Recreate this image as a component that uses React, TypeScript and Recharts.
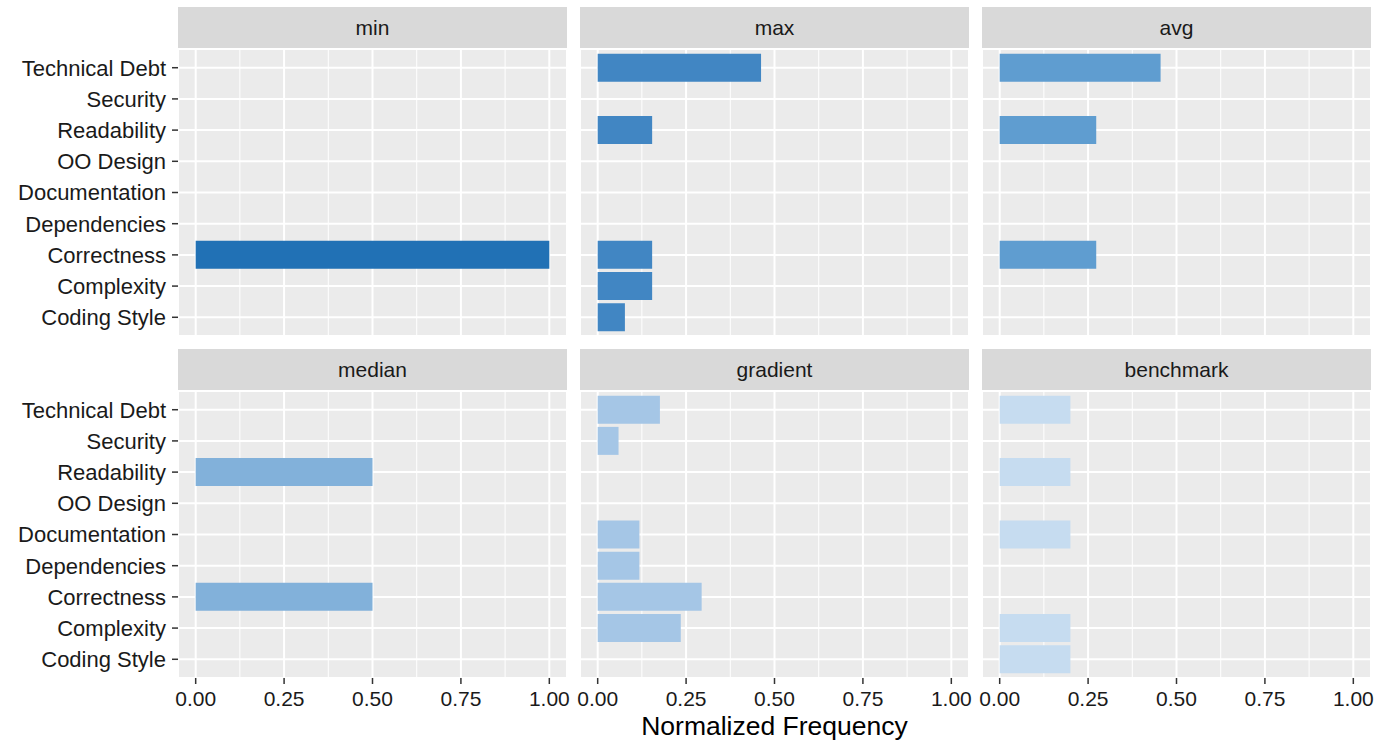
import { Bar, BarChart, CartesianGrid, XAxis, YAxis } from "recharts";

const categories = [
  "Technical Debt",
  "Security",
  "Readability",
  "OO Design",
  "Documentation",
  "Dependencies",
  "Correctness",
  "Complexity",
  "Coding Style"
];

const minValues = [0, 0, 0, 0, 0, 0, 1, 0, 0];
const maxValues = [0.462, 0, 0.154, 0, 0, 0, 0.154, 0.154, 0.077];
const avgValues = [0.455, 0, 0.273, 0, 0, 0, 0.273, 0, 0];
const medianValues = [0, 0, 0.5, 0, 0, 0, 0.5, 0, 0];
const gradientValues = [0.176, 0.059, 0, 0, 0.118, 0.118, 0.294, 0.235, 0];
const benchmarkValues = [0.2, 0, 0.2, 0, 0.2, 0, 0, 0.2, 0.2];

const panelTitles = ["min", "max", "avg", "median", "gradient", "benchmark"];
const majorTicks = [0, 0.25, 0.5, 0.75, 1];
const minorTicks = [0.125, 0.375, 0.625, 0.875];

const panelValues = [minValues, maxValues, avgValues, medianValues, gradientValues, benchmarkValues];
const panelColors = ["#2171b5", "#4186c3", "#5f9dd0", "#82b1da", "#a5c6e6", "#c6dcf0"];

// layout (px)
const COL_LEFT = [178, 580, 982];
const PANEL_W = 389;
const STRIP_TOP = [7, 349];
const STRIP_H = 42;
const PANEL_H = 287;
const X_AXIS_H = 52;
const FONT = "'Liberation Sans', Arial, sans-serif";

function Panel({ index }: { index: number }) {
  const col = index % 3;
  const row = Math.floor(index / 3);
  const values = panelValues[index];
  const data = categories.map((cat, i) => ({ cat, value: values[i] }));
  const showY = col === 0;
  const showX = row === 1;
  const left = showY ? 0 : COL_LEFT[col];
  const yW = showY ? COL_LEFT[0] : 0;
  const top = STRIP_TOP[row] + STRIP_H;
  const pad = PANEL_H / 92;

  return (
    <>
      <div
        style={{
          position: "absolute",
          left: COL_LEFT[col],
          top: STRIP_TOP[row],
          width: PANEL_W,
          height: STRIP_H,
          background: "#d9d9d9",
          color: "#1a1a1a",
          fontSize: 21,
          lineHeight: `${STRIP_H}px`,
          textAlign: "center"
        }}
      >
        {panelTitles[index]}
      </div>
      <div style={{ position: "absolute", left, top }}>
        <BarChart
          width={yW + PANEL_W}
          height={PANEL_H + (showX ? X_AXIS_H : 0)}
          data={data}
          layout="vertical"
          margin={{ top: 0, right: 0, bottom: 0, left: 0 }}
          barCategoryGap="5%"
          style={{ overflow: "visible" }}
        >
          <XAxis
            xAxisId="minor"
            type="number"
            domain={[-0.05, 1.05]}
            ticks={minorTicks}
            allowDataOverflow
            hide
          />
          <CartesianGrid
            xAxisId="minor"
            horizontal={false}
            stroke="#ffffff"
            strokeWidth={1}
            fill="#ebebeb"
            fillOpacity={1}
          />
          <CartesianGrid stroke="#ffffff" strokeWidth={2} />
          <XAxis
            type="number"
            dataKey="value"
            domain={[-0.05, 1.05]}
            ticks={majorTicks}
            interval={0}
            allowDataOverflow
            hide={!showX}
            height={X_AXIS_H}
            axisLine={false}
            tickSize={6}
            tickMargin={7}
            tickLine={{ stroke: "#333333", strokeWidth: 1.5 }}
            tick={{ fill: "#1a1a1a", fontSize: 21 }}
            tickFormatter={(v: number) => v.toFixed(2)}
          />
          <YAxis
            type="category"
            dataKey="cat"
            hide={!showY}
            width={yW}
            padding={{ top: pad, bottom: pad }}
            axisLine={false}
            tickSize={6}
            tickMargin={6}
            tickLine={{ stroke: "#333333", strokeWidth: 1.5 }}
            tick={{ fill: "#1a1a1a", fontSize: 22 }}
            interval={0}
          />
          <Bar dataKey="value" fill={panelColors[index]} isAnimationActive={false} />
        </BarChart>
      </div>
    </>
  );
}

export default function App() {
  return (
    <div
      style={{
        position: "absolute",
        left: 0,
        top: 0,
        width: 1397,
        height: 741,
        background: "#ffffff",
        fontFamily: FONT,
        overflow: "hidden"
      }}
    >
      <style>{`.recharts-surface { overflow: visible; } .recharts-wrapper { overflow: visible; }`}</style>
      {panelTitles.map((t, i) => (
        <Panel key={t} index={i} />
      ))}
      <div
        style={{
          position: "absolute",
          left: COL_LEFT[1],
          width: PANEL_W,
          top: 711,
          textAlign: "center",
          fontSize: 26.5,
          color: "#000000",
          whiteSpace: "nowrap"
        }}
      >
        Normalized Frequency
      </div>
    </div>
  );
}
